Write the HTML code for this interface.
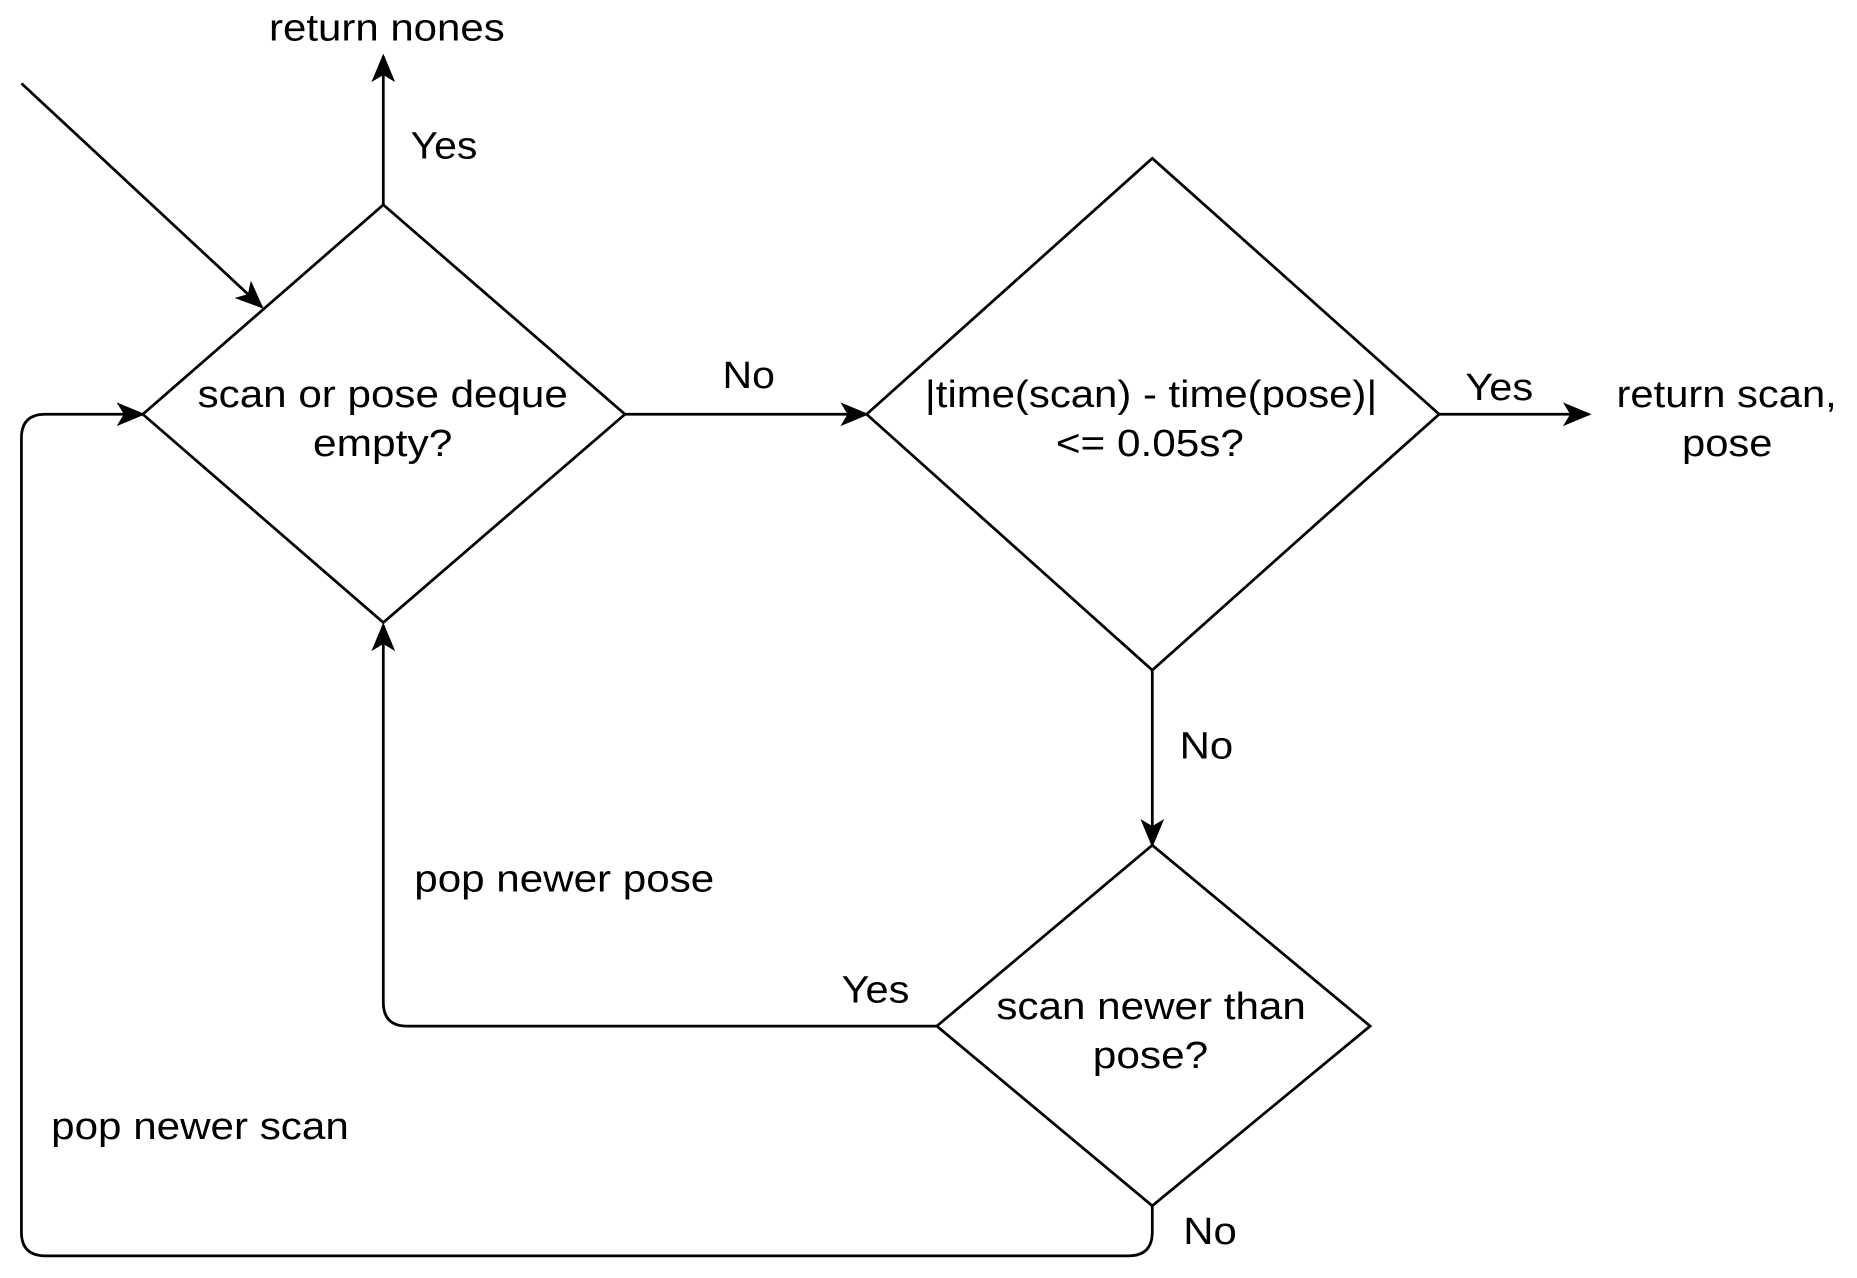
<!DOCTYPE html>
<html><head><meta charset="utf-8"><style>
html,body{margin:0;padding:0;background:#fff;}
svg{display:block;}
text{font-family:"Liberation Sans",Arial,sans-serif;font-size:32px;fill:#000;}
</style></head><body>
<svg width="1857" height="1278" viewBox="0 0 1560 1073.6" xmlns="http://www.w3.org/2000/svg">
<defs>
<marker id="b" markerWidth="24" markerHeight="24" refX="22" refY="12" orient="auto" markerUnits="userSpaceOnUse" viewBox="0 0 24 24">
<path d="M0,2 L24,12 L0,22 L6,12 Z" fill="#000"/>
</marker>
</defs>
<g fill="none" stroke="#000" stroke-width="2.3">
<polygon points="322,172 525,348 322,523 120,348"/>
<polygon points="968,133 1209,348 968,563 728,348"/>
<polygon points="968,710 1151,862 968,1013 787,862"/>
<line x1="18" y1="70" x2="220" y2="258" marker-end="url(#b)"/>
<line x1="322" y1="172" x2="322" y2="47" marker-end="url(#b)"/>
<line x1="525" y1="348" x2="728" y2="348" marker-end="url(#b)"/>
<line x1="1209" y1="348" x2="1335" y2="348" marker-end="url(#b)"/>
<line x1="968" y1="563" x2="968" y2="710" marker-end="url(#b)"/>
<path d="M787,862 L342,862 Q322,862 322,842 L322,525" marker-end="url(#b)"/>
<path d="M968,1013 L968,1035 Q968,1055 948,1055 L38,1055 Q18,1055 18,1035 L18,368 Q18,348 38,348 L120,348" marker-end="url(#b)"/>
</g>
<g lengthAdjust="spacingAndGlyphs">
<text x="226" y="34" textLength="198" lengthAdjust="spacingAndGlyphs">return nones</text>
<text x="345" y="133" textLength="56" lengthAdjust="spacingAndGlyphs">Yes</text>
<text x="166" y="342" textLength="311" lengthAdjust="spacingAndGlyphs">scan or pose deque</text>
<text x="263" y="383" textLength="117" lengthAdjust="spacingAndGlyphs">empty?</text>
<text x="607" y="326" textLength="44" lengthAdjust="spacingAndGlyphs">No</text>
<text x="777" y="342" textLength="380" lengthAdjust="spacingAndGlyphs">|time(scan) - time(pose)|</text>
<text x="887" y="383" textLength="158" lengthAdjust="spacingAndGlyphs">&lt;= 0.05s?</text>
<text x="1231" y="336" textLength="57" lengthAdjust="spacingAndGlyphs">Yes</text>
<text x="1358" y="342" textLength="185" lengthAdjust="spacingAndGlyphs">return scan,</text>
<text x="1413" y="383" textLength="76" lengthAdjust="spacingAndGlyphs">pose</text>
<text x="991" y="637" textLength="45" lengthAdjust="spacingAndGlyphs">No</text>
<text x="348" y="749" textLength="252" lengthAdjust="spacingAndGlyphs">pop newer pose</text>
<text x="707" y="842" textLength="57" lengthAdjust="spacingAndGlyphs">Yes</text>
<text x="837" y="856" textLength="260" lengthAdjust="spacingAndGlyphs">scan newer than</text>
<text x="918" y="897" textLength="97" lengthAdjust="spacingAndGlyphs">pose?</text>
<text x="43" y="957" textLength="250" lengthAdjust="spacingAndGlyphs">pop newer scan</text>
<text x="994" y="1045" textLength="45" lengthAdjust="spacingAndGlyphs">No</text>
</g>
</svg>
</body></html>
